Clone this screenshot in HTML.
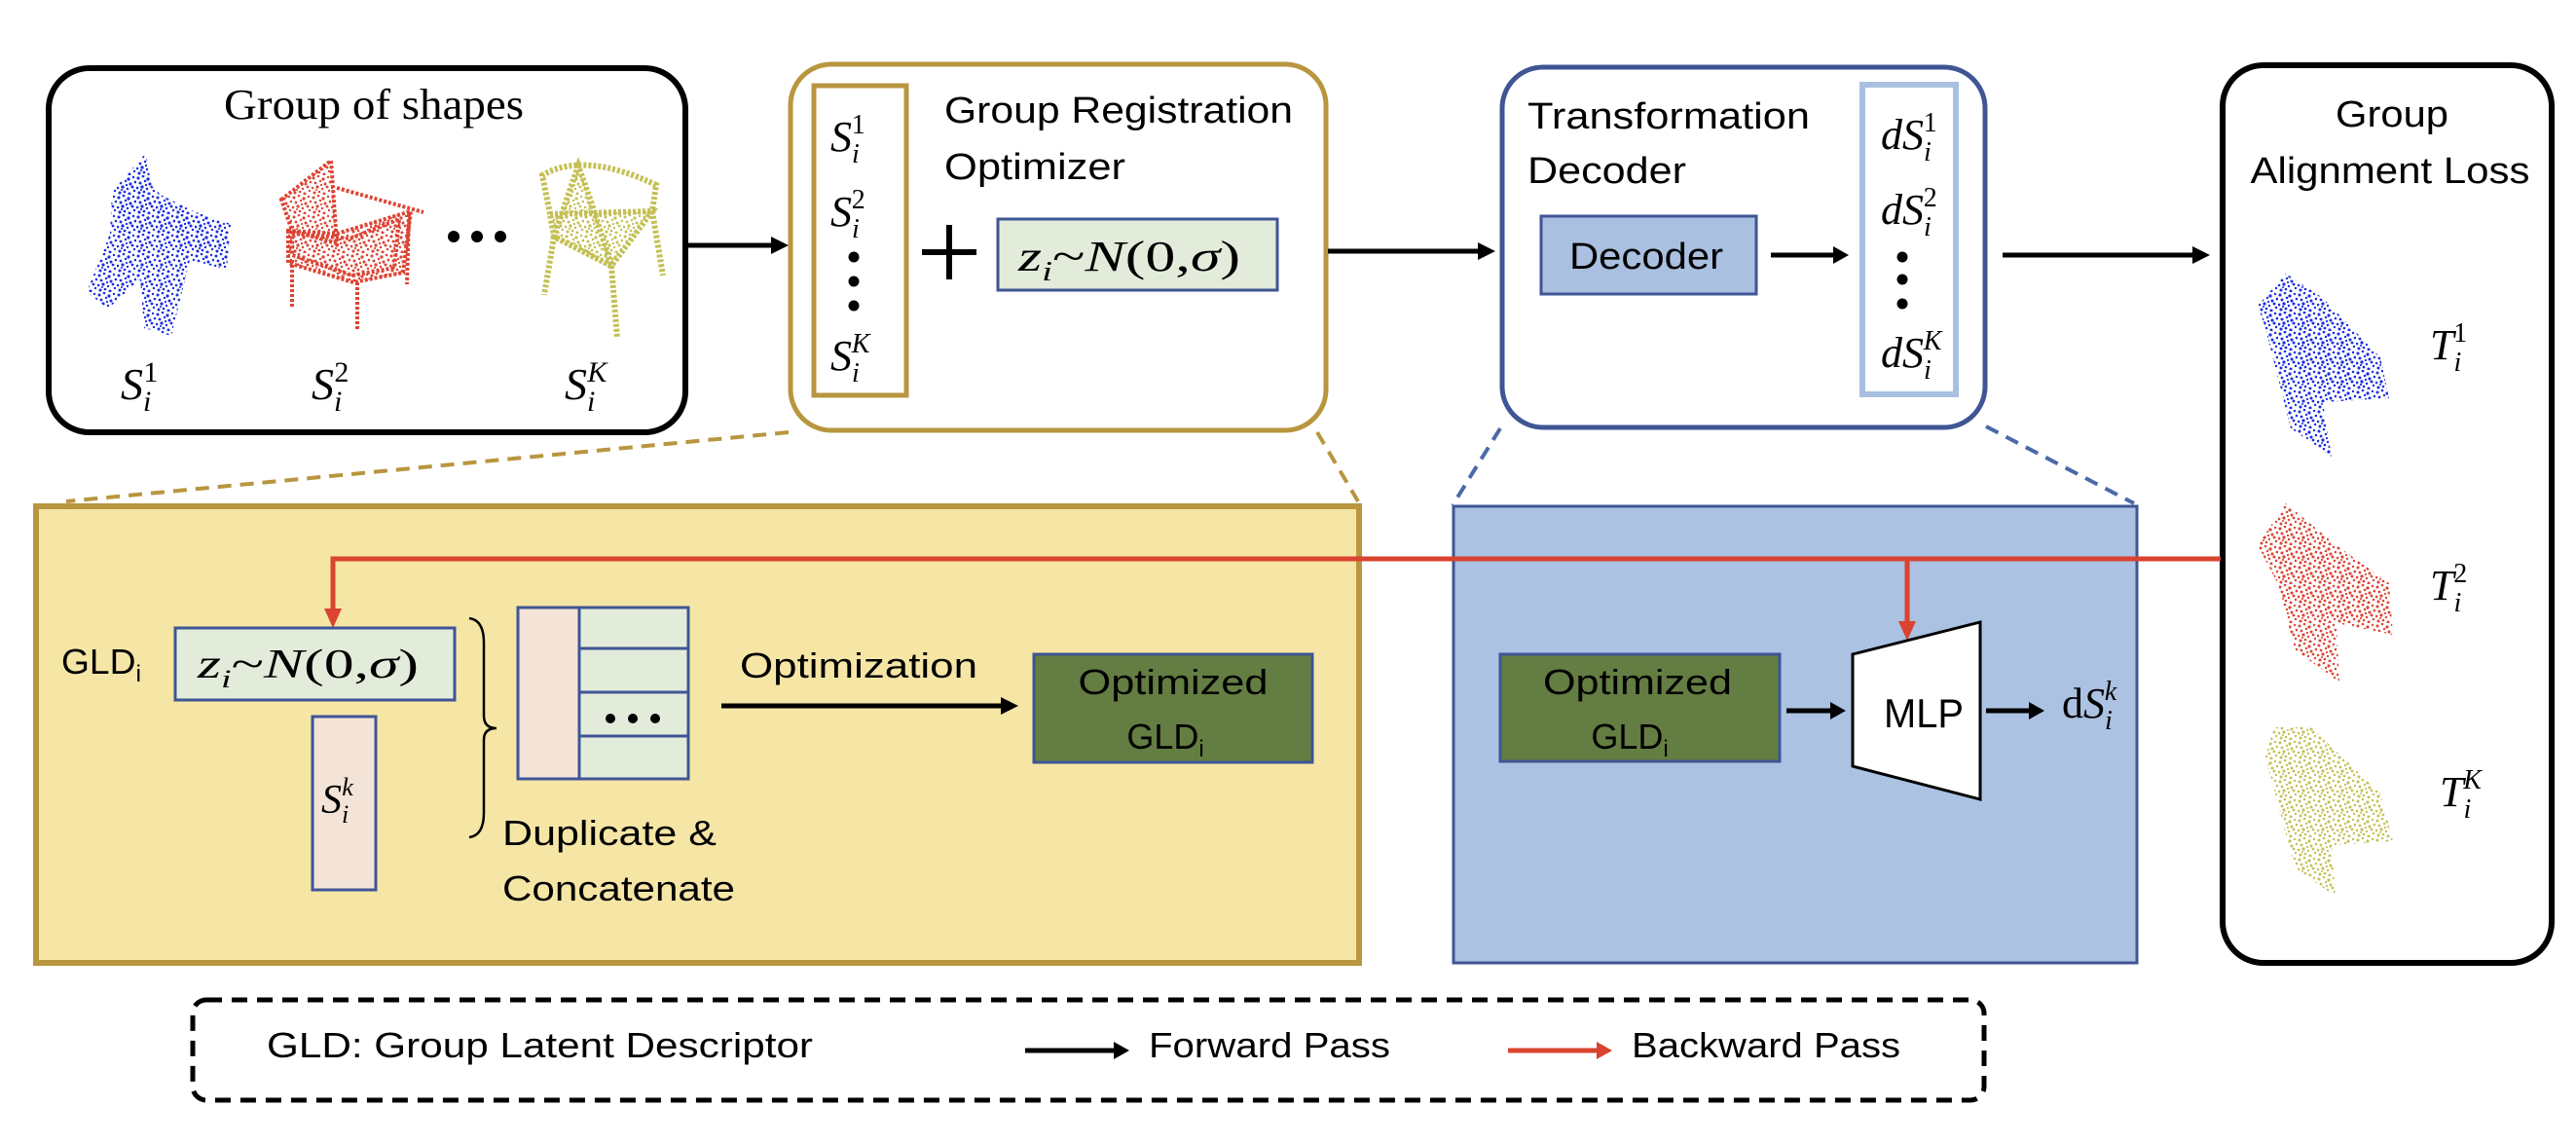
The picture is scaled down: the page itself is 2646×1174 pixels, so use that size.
<!DOCTYPE html>
<html><head><meta charset="utf-8"><style>
html,body{margin:0;padding:0;background:#fff;}
svg{display:block;}
.sans{font-family:"Liberation Sans",sans-serif;fill:#000;}
.m{font-family:"Liberation Serif",serif;font-style:italic;fill:#000;}
</style></head><body>
<svg width="2646" height="1174" viewBox="0 0 2646 1174" xmlns="http://www.w3.org/2000/svg">
<defs>
<g id="dots">
<circle cx="2" cy="3" r="1.5"/><circle cx="7" cy="1" r="1.3"/><circle cx="12" cy="4" r="1.6"/><circle cx="17" cy="2" r="1.2"/>
<circle cx="4" cy="8" r="1.4"/><circle cx="9" cy="6" r="1.2"/><circle cx="14" cy="9" r="1.5"/><circle cx="19" cy="7" r="1.3"/>
<circle cx="1" cy="13" r="1.3"/><circle cx="6" cy="12" r="1.6"/><circle cx="11" cy="14" r="1.2"/><circle cx="16" cy="12" r="1.4"/>
<circle cx="3" cy="18" r="1.5"/><circle cx="8" cy="17" r="1.3"/><circle cx="13" cy="19" r="1.5"/><circle cx="18" cy="16" r="1.2"/>
<circle cx="10" cy="10" r="1.1"/><circle cx="5" cy="15" r="1"/>
</g>
<pattern id="pb" width="20" height="20" patternUnits="userSpaceOnUse"><use href="#dots" fill="#1a2ee0"/></pattern>
<pattern id="pr" width="20" height="20" patternUnits="userSpaceOnUse"><use href="#dots" fill="#dc4535"/></pattern>
<pattern id="py" width="20" height="20" patternUnits="userSpaceOnUse"><use href="#dots" fill="#c4c055"/></pattern>
</defs>

<!-- Group of shapes box -->
<rect x="50" y="70" width="654" height="374" rx="42" fill="#fff" stroke="#000" stroke-width="6"/>
<text x="384" y="122" text-anchor="middle" font-family="Liberation Serif,serif" font-size="44" textLength="308" lengthAdjust="spacingAndGlyphs">Group of shapes</text>
<!-- blue chair -->
<polygon points="150,157 115,197 113,240 89,300 111,317 144,287 148,337 176,345 195,267 233,277 237,230 199,217 165,200 155,190" fill="url(#pb)"/>
<polygon points="150,165 120,200 125,240 160,235 200,260 230,250 200,222 160,205" fill="url(#pb)"/>
<!-- red chair -->
<g fill="url(#pr)" stroke="#dc4535" stroke-width="4" stroke-dasharray="3 2">
<polygon points="289,205 340,165 346,250 300,237"/>
<polygon points="296,237 346,240 422,217 414,280 363,290 296,270"/>
<polygon points="300,240 360,245 410,225 405,275 362,283 300,262"/>
<line x1="346" y1="193" x2="435" y2="218"/><line x1="300" y1="267" x2="300" y2="317"/><line x1="367" y1="290" x2="367" y2="340"/><line x1="420" y1="220" x2="418" y2="292"/>
</g>
<circle cx="466" cy="243" r="6"/><circle cx="490" cy="243" r="6"/><circle cx="514" cy="243" r="6"/>
<!-- yellow chair -->
<g fill="none" stroke="#c4c055" stroke-width="6" stroke-dasharray="3 2">
<path d="M565,220 L557,180 Q600,155 674,190 L670,217"/>
<polygon points="594,170 569,243 628,273 607,207" fill="url(#py)"/>
<polygon points="565,220 670,217 628,273 569,243" fill="url(#py)"/>
<line x1="569" y1="243" x2="559" y2="303"/><line x1="628" y1="273" x2="634" y2="347"/><line x1="670" y1="217" x2="681" y2="283"/>
</g>
<g class="m" font-size="46">
<text x="124" y="410">S<tspan font-size="30" dy="12">i</tspan><tspan font-size="30" font-style="normal" dx="-8" dy="-30">1</tspan></text>
<text x="320" y="410">S<tspan font-size="30" dy="12">i</tspan><tspan font-size="30" font-style="normal" dx="-8" dy="-30">2</tspan></text>
<text x="580" y="410">S<tspan font-size="30" dy="12">i</tspan><tspan font-size="30" dx="-8" dy="-30">K</tspan></text>
</g>
<!-- arrow 1 -->
<line x1="705" y1="252" x2="795" y2="252" stroke="#000" stroke-width="5"/><polygon points="792,243 810,252 792,261"/>

<!-- Group registration box -->
<rect x="812" y="66" width="550" height="376" rx="42" fill="#fff" stroke="#b8963f" stroke-width="5"/>
<rect x="836" y="88" width="95" height="318" fill="#fff" stroke="#b8963f" stroke-width="5"/>
<text class="sans" x="970" y="126" font-size="38" textLength="358" lengthAdjust="spacingAndGlyphs">Group Registration</text>
<text class="sans" x="970" y="184" font-size="38" textLength="186" lengthAdjust="spacingAndGlyphs">Optimizer</text>
<g class="m" font-size="44">
<text x="853" y="155">S<tspan font-size="28" dy="12">i</tspan><tspan font-size="28" font-style="normal" dx="-8" dy="-30">1</tspan></text>
<text x="853" y="232">S<tspan font-size="28" dy="12">i</tspan><tspan font-size="28" font-style="normal" dx="-8" dy="-30">2</tspan></text>
<text x="853" y="380">S<tspan font-size="28" dy="12">i</tspan><tspan font-size="28" dx="-8" dy="-30">K</tspan></text>
</g>
<circle cx="877" cy="264" r="5.5"/><circle cx="877" cy="289" r="5.5"/><circle cx="877" cy="314" r="5.5"/>
<rect x="947" y="256" width="56" height="6"/><rect x="972" y="231" width="6" height="56"/>
<rect x="1025" y="225" width="287" height="73" fill="#e3ecdb" stroke="#3f5594" stroke-width="3"/>
<text class="m" x="1046" y="278" font-size="44" textLength="228" lengthAdjust="spacingAndGlyphs">z<tspan font-size="28" dy="10">i</tspan><tspan dy="-10" font-style="normal">~</tspan>N<tspan font-style="normal">(0,</tspan>σ<tspan font-style="normal">)</tspan></text>
<!-- arrow 2 -->
<line x1="1364" y1="258" x2="1520" y2="258" stroke="#000" stroke-width="5"/><polygon points="1518,249 1536,258 1518,267"/>

<!-- Transformation decoder box -->
<rect x="1543" y="69" width="496" height="370" rx="42" fill="#fff" stroke="#3f5594" stroke-width="5"/>
<text class="sans" x="1569" y="132" font-size="38" textLength="290" lengthAdjust="spacingAndGlyphs">Transformation</text>
<text class="sans" x="1569" y="188" font-size="38" textLength="163" lengthAdjust="spacingAndGlyphs">Decoder</text>
<rect x="1583" y="222" width="221" height="80" fill="#a9c0e0" stroke="#3f5594" stroke-width="3"/>
<text class="sans" x="1612" y="276" font-size="38" textLength="158" lengthAdjust="spacingAndGlyphs">Decoder</text>
<line x1="1819" y1="262" x2="1885" y2="262" stroke="#000" stroke-width="5"/><polygon points="1883,253 1899,262 1883,271"/>
<rect x="1913" y="87" width="96" height="318" fill="#fff" stroke="#a9c0e0" stroke-width="6"/>
<g class="m" font-size="44">
<text x="1932" y="153">dS<tspan font-size="28" dy="12">i</tspan><tspan font-size="28" font-style="normal" dx="-8" dy="-30">1</tspan></text>
<text x="1932" y="230">dS<tspan font-size="28" dy="12">i</tspan><tspan font-size="28" font-style="normal" dx="-8" dy="-30">2</tspan></text>
<text x="1932" y="377">dS<tspan font-size="28" dy="12">i</tspan><tspan font-size="28" dx="-8" dy="-30">K</tspan></text>
</g>
<circle cx="1954" cy="264" r="5.5"/><circle cx="1954" cy="287" r="5.5"/><circle cx="1954" cy="312" r="5.5"/>
<line x1="2057" y1="262" x2="2254" y2="262" stroke="#000" stroke-width="5"/><polygon points="2252,253 2270,262 2252,271"/>

<!-- Alignment loss box -->
<rect x="2283" y="67" width="338" height="922" rx="42" fill="#fff" stroke="#000" stroke-width="6"/>
<text class="sans" x="2457" y="130" font-size="38" text-anchor="middle" textLength="116" lengthAdjust="spacingAndGlyphs">Group</text>
<text class="sans" x="2455" y="188" font-size="38" text-anchor="middle" textLength="287" lengthAdjust="spacingAndGlyphs">Alignment Loss</text>
<polygon points="2348,281 2319,314 2327,337 2353,440 2395,469 2386,413 2454,409 2445,367 2386,306" fill="url(#pb)"/>
<polygon points="2340,300 2330,330 2360,380 2400,400 2440,395 2430,370 2380,320" fill="url(#pb)"/>
<polygon points="2348,517 2319,560 2340,600 2357,667 2403,701 2400,640 2458,652 2454,599 2400,560" fill="url(#pr)"/>
<polygon points="2340,540 2330,570 2360,620 2410,640 2450,630 2440,600 2390,565" fill="url(#pr)"/>
<polygon points="2336,747 2327,777 2357,891 2399,921 2395,868 2458,864 2445,815 2374,747" fill="url(#py)"/>
<g class="m" font-size="44">
<text x="2496" y="369">T<tspan font-size="28" dy="12">i</tspan><tspan font-size="28" font-style="normal" dx="-8" dy="-30">1</tspan></text>
<text x="2496" y="616">T<tspan font-size="28" dy="12">i</tspan><tspan font-size="28" font-style="normal" dx="-8" dy="-30">2</tspan></text>
<text x="2506" y="828">T<tspan font-size="28" dy="12">i</tspan><tspan font-size="28" dx="-8" dy="-30">K</tspan></text>
</g>

<!-- dashed zoom lines -->
<g stroke-width="4" stroke-dasharray="14 9" fill="none">
<line x1="810" y1="444" x2="68" y2="515" stroke="#b8963f"/>
<line x1="1353" y1="444" x2="1395" y2="515" stroke="#b8963f"/>
<line x1="1541" y1="440" x2="1492" y2="519" stroke="#4a6aa8"/>
<line x1="2040" y1="438" x2="2192" y2="517" stroke="#4a6aa8"/>
</g>

<!-- yellow panel -->
<rect x="37" y="520" width="1359" height="469" fill="#f6e6a6" stroke="#b8963f" stroke-width="6"/>
<!-- blue panel -->
<rect x="1493" y="520" width="702" height="469" fill="#abc2e2" stroke="#3f5594" stroke-width="3"/>

<!-- red backward line -->
<g stroke="#d9432f" stroke-width="5" fill="none">
<polyline points="2281,574 342,574 342,628"/>
<line x1="1959" y1="574" x2="1959" y2="640"/>
</g>
<polygon points="333,625 351,625 342,645" fill="#d9432f"/>
<polygon points="1950,638 1968,638 1959,658" fill="#d9432f"/>

<!-- yellow contents -->
<text class="sans" x="63" y="692" font-size="36" textLength="82" lengthAdjust="spacingAndGlyphs">GLD<tspan font-size="24" dy="8">i</tspan></text>
<rect x="180" y="645" width="287" height="74" fill="#e3ecdb" stroke="#3f5594" stroke-width="3"/>
<text class="m" x="203" y="696" font-size="42" textLength="227" lengthAdjust="spacingAndGlyphs">z<tspan font-size="26" dy="10">i</tspan><tspan dy="-10" font-style="normal">~</tspan>N<tspan font-style="normal">(0,</tspan>σ<tspan font-style="normal">)</tspan></text>
<rect x="321" y="736" width="65" height="178" fill="#f3e4d7" stroke="#3f5594" stroke-width="3"/>
<text class="m" x="330" y="835" font-size="42">S<tspan font-size="26" dy="10">i</tspan><tspan font-size="26" dx="-7" dy="-28">k</tspan></text>
<path d="M482,635 Q497,637 497,660 L497,735 Q497,748 510,748 Q497,748 497,760 L497,835 Q497,858 482,860" fill="none" stroke="#000" stroke-width="2.5"/>
<rect x="532" y="624" width="175" height="176" fill="#e3ecdb" stroke="#3f5594" stroke-width="3"/>
<rect x="532" y="624" width="63" height="176" fill="#f3e4d7" stroke="#3f5594" stroke-width="3"/>
<g stroke="#3f5594" stroke-width="3"><line x1="595" y1="666" x2="707" y2="666"/><line x1="595" y1="711" x2="707" y2="711"/><line x1="595" y1="756" x2="707" y2="756"/></g>
<circle cx="627" cy="738" r="5"/><circle cx="650" cy="738" r="5"/><circle cx="673" cy="738" r="5"/>
<text class="sans" x="516" y="868" font-size="36" textLength="220" lengthAdjust="spacingAndGlyphs">Duplicate &amp;</text>
<text class="sans" x="516" y="925" font-size="36" textLength="239" lengthAdjust="spacingAndGlyphs">Concatenate</text>
<text class="sans" x="760" y="696" font-size="36" textLength="244" lengthAdjust="spacingAndGlyphs">Optimization</text>
<line x1="741" y1="725" x2="1030" y2="725" stroke="#000" stroke-width="5"/><polygon points="1028,716 1046,725 1028,734"/>
<rect x="1062" y="672" width="286" height="111" fill="#647d42" stroke="#3f5594" stroke-width="3"/>
<text class="sans" x="1205" y="713" font-size="36" text-anchor="middle" textLength="195" lengthAdjust="spacingAndGlyphs">Optimized</text>
<text class="sans" x="1197" y="769" font-size="36" text-anchor="middle">GLD<tspan font-size="24" dy="8">i</tspan></text>

<!-- blue contents -->
<rect x="1541" y="672" width="287" height="110" fill="#647d42" stroke="#3f5594" stroke-width="3"/>
<text class="sans" x="1682" y="713" font-size="36" text-anchor="middle" textLength="194" lengthAdjust="spacingAndGlyphs">Optimized</text>
<text class="sans" x="1674" y="769" font-size="36" text-anchor="middle">GLD<tspan font-size="24" dy="8">i</tspan></text>
<line x1="1835" y1="730" x2="1882" y2="730" stroke="#000" stroke-width="5"/><polygon points="1880,721 1896,730 1880,739"/>
<polygon points="1903,672 2034,639 2034,821 1903,787" fill="#fff" stroke="#000" stroke-width="3"/>
<text class="sans" x="1976" y="747" font-size="42" text-anchor="middle" textLength="82" lengthAdjust="spacingAndGlyphs">MLP</text>
<line x1="2040" y1="730" x2="2086" y2="730" stroke="#000" stroke-width="5"/><polygon points="2084,721 2100,730 2084,739"/>
<text class="m" x="2118" y="737" font-size="44"><tspan font-style="normal">d</tspan>S<tspan font-size="28" dy="12">i</tspan><tspan font-size="28" dx="-8" dy="-30">k</tspan></text>

<!-- legend -->
<rect x="198" y="1027" width="1840" height="103" rx="14" fill="none" stroke="#000" stroke-width="5" stroke-dasharray="16 10"/>
<text class="sans" x="274" y="1086" font-size="36" textLength="561" lengthAdjust="spacingAndGlyphs">GLD: Group Latent Descriptor</text>
<line x1="1053" y1="1079" x2="1146" y2="1079" stroke="#000" stroke-width="5"/><polygon points="1144,1070 1160,1079 1144,1088"/>
<text class="sans" x="1180" y="1086" font-size="36" textLength="248" lengthAdjust="spacingAndGlyphs">Forward Pass</text>
<line x1="1549" y1="1079" x2="1642" y2="1079" stroke="#d9432f" stroke-width="5"/><polygon points="1640,1070 1656,1079 1640,1088" fill="#d9432f"/>
<text class="sans" x="1676" y="1086" font-size="36" textLength="276" lengthAdjust="spacingAndGlyphs">Backward Pass</text>
</svg>
</body></html>
